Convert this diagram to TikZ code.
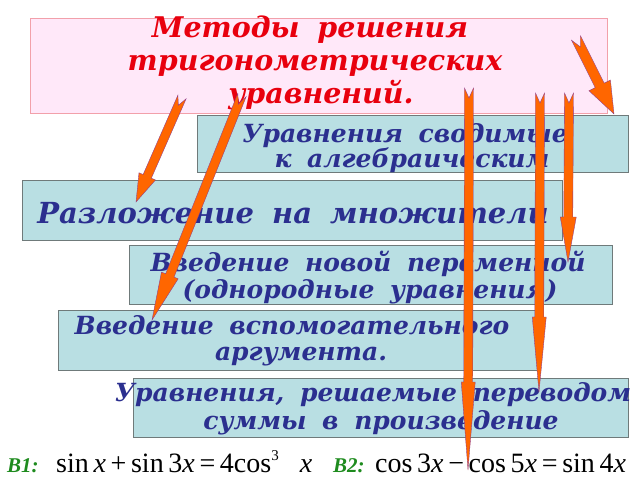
\documentclass[tikz,border=0pt]{standalone}
\usepackage{fontspec}
\usetikzlibrary{calc}
\newfontfamily\bxfont[WordSpace=1.8]{DejaVu Serif}
\newfontfamily\tmfont{Liberation Serif}
\definecolor{titlered}{HTML}{E8000E}
\definecolor{titlefill}{HTML}{FFE8F9}
\definecolor{titleline}{HTML}{F2A0AA}
\definecolor{boxfill}{HTML}{B9DFE3}
\definecolor{boxline}{HTML}{6F7A7A}
\definecolor{boxtext}{HTML}{2B2F8F}
\definecolor{arrowfill}{HTML}{FF6600}
\definecolor{arrowline}{HTML}{8A3A90}
\definecolor{labgreen}{HTML}{1E8B1E}
\tikzset{
  tbox/.style={draw=titleline, fill=titlefill, line width=0.8pt, inner sep=0pt},
  mbox/.style={draw=boxline, fill=boxfill, line width=1pt, inner sep=0pt},
  ttext/.style={text=titlered, font=\bxfont\bfseries\itshape\fontsize{28.5}{32}\selectfont, inner sep=0pt, anchor=base},
  btext/.style={text=boxtext, font=\bxfont\bfseries\itshape\fontsize{25}{26}\selectfont, inner sep=0pt, anchor=base},
  bigtext/.style={text=boxtext, font=\bxfont\bfseries\itshape\fontsize{29}{30}\selectfont, inner sep=0pt, anchor=base},
  labtext/.style={text=labgreen, font=\tmfont\bfseries\itshape\fontsize{21}{24}\selectfont, inner sep=0pt, anchor=base},
  ftext/.style={text=black, font=\tmfont\fontsize{28}{32}\selectfont, inner sep=0pt, anchor=base},
  arrowstyle/.style={fill=arrowfill, draw=arrowline, line width=0.35pt, line join=miter}
}
% #1 tail, #2 tip, #3 shaft half width, #4 head half width, #5 head length, #6 notch depth
\newcommand\notchedarrow[6]{%
  \coordinate (ba-n) at ($(#1)!#6!(#2)$);
  \coordinate (ba-b) at ($(#2)!#5!(#1)$);
  \filldraw[arrowstyle] ($(#1)!#3!90:(#2)$) -- (ba-n) -- ($(#1)!#3!-90:(#2)$)
    -- ($(ba-b)!#3!-90:(#2)$) -- ($(ba-b)!#4!-90:(#2)$) -- (#2)
    -- ($(ba-b)!#4!90:(#2)$) -- ($(ba-b)!#3!90:(#2)$) -- cycle;
}
\begin{document}
\begin{tikzpicture}[x=1pt,y=-1pt]
\useasboundingbox (0,0) rectangle (640,480);
% title
\node[tbox, minimum width=577pt, minimum height=95pt] (title) at (318.5,65.5) {};
\node[ttext] (t1) at (310,37) {Методы решения};
\node[ttext] (t2) at (315,70) {тригонометрических};
\node[ttext] (t3) at (321,103) {уравнений.};
% boxes
\node[mbox, minimum width=431pt, minimum height=57pt] (b1) at (412.5,143.5) {};
\node[mbox, minimum width=540pt, minimum height=60pt] (b2) at (292,210) {};
\node[mbox, minimum width=483pt, minimum height=59pt] (b3) at (370.5,274.5) {};
\node[mbox, minimum width=482pt, minimum height=60pt] (b4) at (299,340) {};
\node[mbox, minimum width=495pt, minimum height=59pt] (b5) at (380.5,407.5) {};
\node[btext] (b1a) at (405,142) {Уравнения сводимые};
\node[btext] (b1b) at (412,167) {к алгебраическим};
\node[bigtext] (b2a) at (293,223) {Разложение на множители};
\node[btext] (b3a) at (368,271) {Введение новой переменной};
\node[btext] (b3b) at (370,298) {(однородные уравнения)};
\node[btext] (b4a) at (292,334) {Введение вспомогательного};
\node[btext] (b4b) at (301,360) {аргумента.};
\node[btext] (b5a) at (373,401) {Уравнения, решаемые переводом};
\node[btext] (b5b) at (381,429) {суммы в произведение};
% formulas
\node[labtext, anchor=base west] (l1) at (7,472) {В1:};
\node[ftext, anchor=base west] (f1) at (56,472) {sin\,\textit{x}\,+\,sin\,3\textit{x}\,=\,4cos\raisebox{12pt}{\fontsize{15}{15}\selectfont 3}\,\,\, \textit{x}};
\node[labtext, anchor=base west] (l2) at (333,472) {В2:};
\node[ftext, anchor=base west] (f2) at (375,472) {cos\,3\textit{x}\,\textminus\,cos\,5\textit{x}\,=\,sin\,4\textit{x}};
% arrow endpoints
\coordinate (a1s) at (182,97);  \coordinate (a1e) at (136,202);
\coordinate (a2s) at (242,95);  \coordinate (a2e) at (152,320);
\coordinate (v1s) at (469,88);  \coordinate (v1e) at (468,470);
\coordinate (v2s) at (540,93);  \coordinate (v2e) at (539,392);
\coordinate (v3s) at (569,93);  \coordinate (v3e) at (568,262);
\coordinate (d1s) at (576,38);  \coordinate (d1e) at (614,114);
\notchedarrow{a1s}{a1e}{4.5pt}{9pt}{28pt}{9pt}
\notchedarrow{a2s}{a2e}{4.5pt}{9pt}{48pt}{10pt}
\notchedarrow{v1s}{v1e}{4.5pt}{7pt}{88pt}{10pt}
\notchedarrow{v2s}{v2e}{4.5pt}{7pt}{75pt}{10pt}
\notchedarrow{v3s}{v3e}{4.5pt}{8pt}{45pt}{10pt}
\notchedarrow{d1s}{d1e}{5pt}{12pt}{32pt}{10pt}
\end{tikzpicture}
\end{document}
